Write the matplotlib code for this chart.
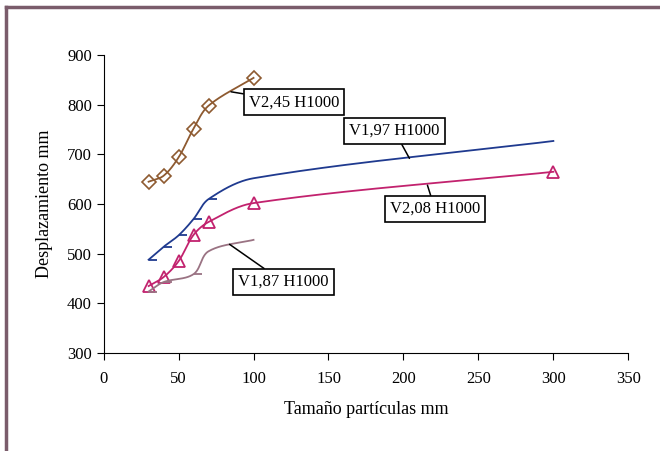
import numpy as np
import matplotlib
matplotlib.use("Agg")
import matplotlib.pyplot as plt
from matplotlib.lines import Line2D
from matplotlib.path import Path

plt.rcParams['font.family'] = ['Liberation Serif', 'DejaVu Serif']

# datos
x_245 = [30, 40, 50, 60, 70, 100]
y_245 = [645, 657, 694, 752, 798, 854]

x_197 = [30, 40, 50, 60, 70, 100, 300]
y_197 = [488, 514, 537, 570, 610, 652, 727]

x_208 = [30, 40, 50, 60, 70, 100, 300]
y_208 = [435, 453, 485, 538, 564, 602, 665]

x_187 = [30, 40, 60, 70, 100]
y_187 = [424, 443, 459, 505, 528]

labels = ['V2,45 H1000', 'V1,97 H1000', 'V2,08 H1000', 'V1,87 H1000']

c_245 = '#8e5a30'
c_197 = '#1f3a8f'
c_208 = '#c2226e'
c_187 = '#9a7383'

# escala aproximada en pixeles por unidad (para suavizar en pantalla)
SX, SY = 1.5, 0.497


def smooth(xs, ys, n=40):
    # curva suavizada: bezier con tangentes limitadas a cada tramo
    p = np.column_stack([np.array(xs) * SX, np.array(ys) * SY]).astype(float)
    out = [p[0]]
    m = len(p)
    tang = []
    for i in range(m):
        a = p[max(i - 1, 0)]
        b = p[min(i + 1, m - 1)]
        d = b - a
        tang.append(d / np.linalg.norm(d))
    for i in range(m - 1):
        L = np.linalg.norm(p[i + 1] - p[i])
        c1 = p[i] + tang[i] * L * 0.33
        c2 = p[i + 1] - tang[i + 1] * L * 0.33
        t = np.linspace(0, 1, n)[1:, None]
        seg = ((1 - t) ** 3) * p[i] + 3 * ((1 - t) ** 2) * t * c1 + 3 * (1 - t) * t ** 2 * c2 + t ** 3 * p[i + 1]
        out.extend(seg)
    out = np.array(out)
    return out[:, 0] / SX, out[:, 1] / SY


dash = Path([(0, 0), (1, 0)])

fig = plt.figure(figsize=(6.6, 4.51), dpi=100, facecolor='white')
ax = fig.add_axes([0.157, 0.217, 0.795, 0.661])

sx, sy = smooth(x_245, y_245)
ax.plot(sx, sy, color=c_245, lw=1.3)
ax.plot(x_245, y_245, ls='none', marker='D', ms=7, mfc='none', mec=c_245, mew=1.2)

sx, sy = smooth(x_197, y_197)
ax.plot(sx, sy, color=c_197, lw=1.3)
ax.plot(x_197[:5], y_197[:5], ls='none', marker=dash, ms=11, mec=c_197, mew=1.3)

sx, sy = smooth(x_208, y_208)
ax.plot(sx, sy, color=c_208, lw=1.3)
ax.plot(x_208, y_208, ls='none', marker='^', ms=9, mfc='none', mec=c_208, mew=1.3)

sx, sy = smooth(x_187, y_187)
ax.plot(sx, sy, color=c_187, lw=1.3)
ax.plot(x_187[:3], y_187[:3], ls='none', marker=dash, ms=11, mec=c_187, mew=1.3)

box = dict(boxstyle='square,pad=0.3', fc='white', ec='black', lw=1.2)
arr = dict(arrowstyle='-', color='black', lw=1.1, shrinkA=0, shrinkB=0)
ax.annotate(labels[0], xy=(85, 826), xytext=(127, 805), ha='center', va='center',
            fontsize=12, bbox=box, arrowprops=arr)
ax.annotate(labels[1], xy=(204, 692), xytext=(194, 747), ha='center', va='center',
            fontsize=12, bbox=box, arrowprops=arr)
ax.annotate(labels[2], xy=(216, 638), xytext=(221, 590), ha='center', va='center',
            fontsize=12, bbox=box, arrowprops=arr)
ax.annotate(labels[3], xy=(84, 519), xytext=(120, 443), ha='center', va='center',
            fontsize=12, bbox=box, arrowprops=arr)

ax.set_xlim(0, 350)
ax.set_ylim(300, 900)
ax.set_xticks(np.arange(0, 351, 50))
ax.set_yticks(np.arange(300, 901, 100))
ax.spines['top'].set_visible(False)
ax.spines['right'].set_visible(False)
ax.tick_params(direction='out', length=5, labelsize=12, colors='black')
ax.tick_params(axis='x', pad=8)
ax.set_xlabel('Tamaño partículas mm', fontsize=13, labelpad=10)
ax.set_ylabel('Desplazamiento mm', fontsize=13, labelpad=10)

# marco de la figura
fc = '#7a5c6b'
fig.add_artist(Line2D([0.0095, 0.0095], [0.0, 0.985], color=fc, lw=2.5))
fig.add_artist(Line2D([0.0095, 1.0], [0.985, 0.985], color=fc, lw=2.5))

fig.savefig('out.png', dpi=100)
